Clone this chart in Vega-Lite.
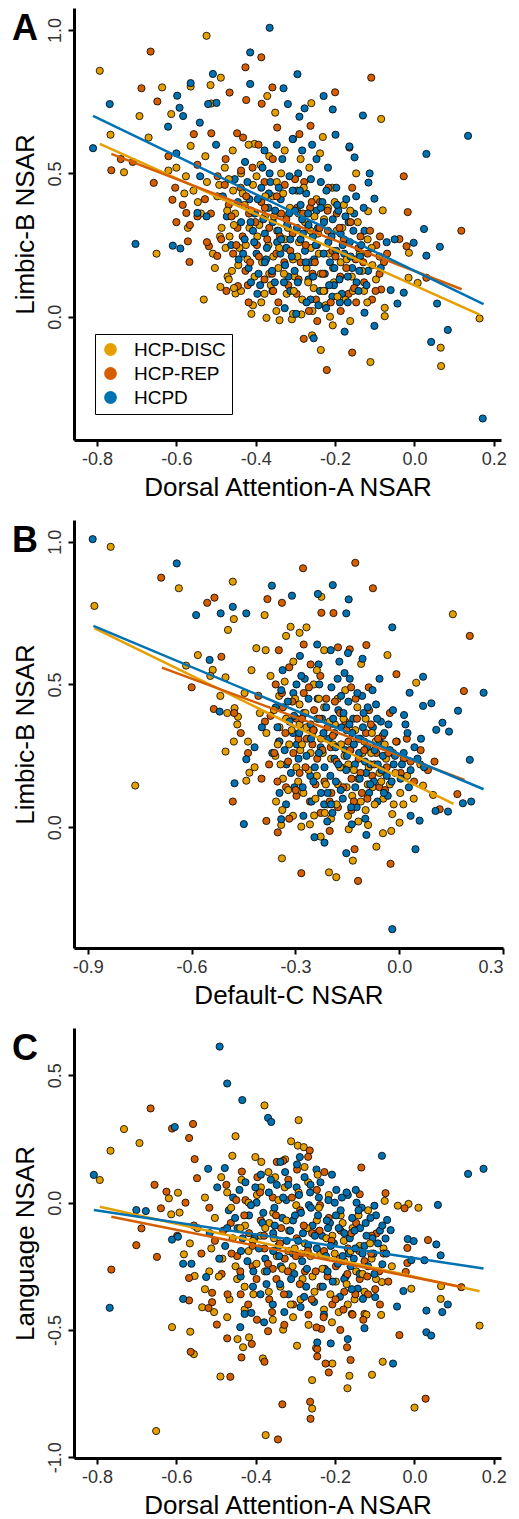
{
"$schema":"https://vega.github.io/schema/vega-lite/v6.json",
"background":"white",
"padding":{"left":12,"top":8,"right":10,"bottom":5},
"config":{"font":"Liberation Sans","view":{"stroke":null},
"axis":{"grid":false,"domainColor":"black","domainWidth":3,"tickColor":"black","tickWidth":2,"tickSize":6,"labelFontSize":18,"labelColor":"#333333","titleFontSize":26,"titleFontWeight":"normal","titleColor":"black"},
"concat":{"spacing":20},
"title":{"fontSize":36,"fontWeight":"bold","anchor":"start","frame":"bounds","color":"black"}},
"datasets":{
"A":[
{"g":"HCP-DISC","x":-0.524,"y":0.98},{"g":"HCP-DISC","x":-0.793,"y":0.858},{"g":"HCP-DISC","x":-0.766,"y":0.635},{"g":"HCP-DISC","x":-0.732,"y":0.504},{"g":"HCP-DISC","x":-0.693,"y":0.70},{"g":"HCP-DISC","x":-0.67,"y":0.625},{"g":"HCP-DISC","x":-0.636,"y":0.80},{"g":"HCP-DISC","x":-0.613,"y":0.707},{"g":"HCP-DISC","x":-0.564,"y":0.803},{"g":"HCP-DISC","x":-0.514,"y":0.808},{"g":"HCP-DISC","x":-0.488,"y":0.834},{"g":"HCP-DISC","x":-0.512,"y":0.744},{"g":"HCP-DISC","x":-0.571,"y":0.31},{"g":"HCP-DISC","x":-0.531,"y":0.06},{"g":"HCP-DISC","x":-0.489,"y":0.104},{"g":"HCP-DISC","x":-0.65,"y":0.22},{"g":"HCP-DISC","x":-0.451,"y":0.081},{"g":"HCP-DISC","x":-0.471,"y":0.14},{"g":"HCP-DISC","x":-0.407,"y":0.04},{"g":"HCP-DISC","x":-0.411,"y":0.01},{"g":"HCP-DISC","x":-0.373,"y":-0.004},{"g":"HCP-DISC","x":-0.34,"y":-0.012},{"g":"HCP-DISC","x":-0.309,"y":-0.009},{"g":"HCP-DISC","x":-0.285,"y":0.008},{"g":"HCP-DISC","x":-0.236,"y":-0.116},{"g":"HCP-DISC","x":-0.258,"y":-0.065},{"g":"HCP-DISC","x":-0.206,"y":-0.03},{"g":"HCP-DISC","x":-0.162,"y":-0.015},{"g":"HCP-DISC","x":-0.111,"y":-0.158},{"g":"HCP-DISC","x":-0.075,"y":0.031},{"g":"HCP-DISC","x":-0.075,"y":0.002},{"g":"HCP-DISC","x":0.066,"y":-0.108},{"g":"HCP-DISC","x":0.067,"y":-0.172},{"g":"HCP-DISC","x":0.164,"y":-0.006},{"g":"HCP-DISC","x":-0.084,"y":0.69},{"g":"HCP-DISC","x":-0.117,"y":0.368},{"g":"HCP-DISC","x":-0.08,"y":0.371},{"g":"HCP-DISC","x":-0.015,"y":0.136},{"g":"HCP-DISC","x":0.008,"y":0.118},{"g":"HCP-DISC","x":-0.014,"y":0.223},{"g":"HCP-DISC","x":-0.231,"y":0.627},{"g":"HCP-DISC","x":-0.26,"y":0.745},{"g":"HCP-DISC","x":-0.351,"y":0.712},{"g":"HCP-DISC","x":-0.371,"y":0.77},{"g":"HCP-DISC","x":-0.403,"y":0.603},{"g":"HCP-DISC","x":-0.564,"y":0.596},{"g":"HCP-DISC","x":-0.58,"y":0.43},{"g":"HCP-DISC","x":-0.546,"y":0.40},{"g":"HCP-DISC","x":-0.60,"y":0.52},{"g":"HCP-DISC","x":-0.62,"y":0.51},{"g":"HCP-DISC","x":-0.49,"y":0.28},{"g":"HCP-DISC","x":-0.46,"y":0.16},
{"g":"HCP-DISC","x":-0.523,"y":0.47},{"g":"HCP-DISC","x":-0.497,"y":0.42},{"g":"HCP-DISC","x":-0.486,"y":0.31},{"g":"HCP-DISC","x":-0.478,"y":0.52},{"g":"HCP-DISC","x":-0.466,"y":0.28},{"g":"HCP-DISC","x":-0.457,"y":0.44},{"g":"HCP-DISC","x":-0.452,"y":0.36},{"g":"HCP-DISC","x":-0.444,"y":0.18},{"g":"HCP-DISC","x":-0.437,"y":0.50},{"g":"HCP-DISC","x":-0.428,"y":0.39},{"g":"HCP-DISC","x":-0.425,"y":0.25},{"g":"HCP-DISC","x":-0.416,"y":0.31},{"g":"HCP-DISC","x":-0.407,"y":0.46},{"g":"HCP-DISC","x":-0.403,"y":0.14},{"g":"HCP-DISC","x":-0.396,"y":0.28},{"g":"HCP-DISC","x":-0.388,"y":0.53},{"g":"HCP-DISC","x":-0.384,"y":0.19},{"g":"HCP-DISC","x":-0.377,"y":0.35},{"g":"HCP-DISC","x":-0.368,"y":0.25},{"g":"HCP-DISC","x":-0.362,"y":0.11},{"g":"HCP-DISC","x":-0.357,"y":0.42},{"g":"HCP-DISC","x":-0.346,"y":0.30},{"g":"HCP-DISC","x":-0.343,"y":0.17},{"g":"HCP-DISC","x":-0.336,"y":0.50},{"g":"HCP-DISC","x":-0.327,"y":0.27},{"g":"HCP-DISC","x":-0.322,"y":0.08},{"g":"HCP-DISC","x":-0.314,"y":0.38},{"g":"HCP-DISC","x":-0.306,"y":0.20},{"g":"HCP-DISC","x":-0.302,"y":0.14},{"g":"HCP-DISC","x":-0.296,"y":0.44},{"g":"HCP-DISC","x":-0.291,"y":0.26},{"g":"HCP-DISC","x":-0.283,"y":0.06},{"g":"HCP-DISC","x":-0.276,"y":0.33},{"g":"HCP-DISC","x":-0.272,"y":0.17},{"g":"HCP-DISC","x":-0.265,"y":0.52},{"g":"HCP-DISC","x":-0.261,"y":0.24},{"g":"HCP-DISC","x":-0.254,"y":0.10},{"g":"HCP-DISC","x":-0.247,"y":0.41},{"g":"HCP-DISC","x":-0.243,"y":0.29},{"g":"HCP-DISC","x":-0.236,"y":0.15},{"g":"HCP-DISC","x":-0.228,"y":0.34},{"g":"HCP-DISC","x":-0.224,"y":0.04},{"g":"HCP-DISC","x":-0.216,"y":0.22},{"g":"HCP-DISC","x":-0.207,"y":0.45},{"g":"HCP-DISC","x":-0.203,"y":0.12},{"g":"HCP-DISC","x":-0.196,"y":0.30},{"g":"HCP-DISC","x":-0.186,"y":0.19},{"g":"HCP-DISC","x":-0.178,"y":0.39},{"g":"HCP-DISC","x":-0.174,"y":0.06},{"g":"HCP-DISC","x":-0.167,"y":0.26},{"g":"HCP-DISC","x":-0.158,"y":0.14},{"g":"HCP-DISC","x":-0.147,"y":0.50},{"g":"HCP-DISC","x":-0.138,"y":0.22},{"g":"HCP-DISC","x":-0.127,"y":0.09},{"g":"HCP-DISC","x":-0.118,"y":0.27},{"g":"HCP-DISC","x":-0.106,"y":0.18},{"g":"HCP-DISC","x":-0.097,"y":0.13},{"g":"HCP-DISC","x":-0.088,"y":0.21},{"g":"HCP-DISC","x":-0.538,"y":0.36},{"g":"HCP-DISC","x":-0.527,"y":0.56},{"g":"HCP-DISC","x":-0.508,"y":0.22},{"g":"HCP-DISC","x":-0.557,"y":0.44},{"g":"HCP-DISC","x":-0.576,"y":0.49},{"g":"HCP-DISC","x":-0.458,"y":0.58},{"g":"HCP-DISC","x":-0.418,"y":0.60},{"g":"HCP-DISC","x":-0.366,"y":0.56},{"g":"HCP-DISC","x":-0.327,"y":0.58},{"g":"HCP-DISC","x":-0.287,"y":0.55},{"g":"HCP-DISC","x":-0.238,"y":0.57},{"g":"HCP-DISC","x":-0.437,"y":0.09},{"g":"HCP-DISC","x":-0.386,"y":0.05},{"g":"HCP-DISC","x":-0.348,"y":0.02},{"g":"HCP-DISC","x":-0.306,"y":0.01},{"g":"HCP-DISC","x":-0.257,"y":0.02},{"g":"HCP-DISC","x":-0.213,"y":0.00},{"g":"HCP-DISC","x":-0.468,"y":0.13},{"g":"HCP-DISC","x":-0.503,"y":0.17},{"g":"HCP-DISC","x":-0.476,"y":0.24},{"g":"HCP-DISC","x":-0.292,"y":0.36},{"g":"HCP-DISC","x":-0.356,"y":0.21},
{"g":"HCP-REP","x":-0.665,"y":0.925},{"g":"HCP-REP","x":-0.688,"y":0.797},{"g":"HCP-REP","x":-0.648,"y":0.751},{"g":"HCP-REP","x":-0.764,"y":0.511},{"g":"HCP-REP","x":-0.657,"y":0.467},{"g":"HCP-REP","x":-0.61,"y":0.408},{"g":"HCP-REP","x":-0.60,"y":0.33},{"g":"HCP-REP","x":-0.567,"y":0.191},{"g":"HCP-REP","x":-0.571,"y":0.263},{"g":"HCP-REP","x":-0.497,"y":0.212},{"g":"HCP-REP","x":-0.518,"y":0.246},{"g":"HCP-REP","x":-0.426,"y":0.87},{"g":"HCP-REP","x":-0.386,"y":0.905},{"g":"HCP-REP","x":-0.358,"y":0.80},{"g":"HCP-REP","x":-0.466,"y":0.782},{"g":"HCP-REP","x":-0.424,"y":0.756},{"g":"HCP-REP","x":-0.385,"y":0.743},{"g":"HCP-REP","x":-0.556,"y":0.637},{"g":"HCP-REP","x":-0.512,"y":0.64},{"g":"HCP-REP","x":-0.432,"y":0.625},{"g":"HCP-REP","x":-0.29,"y":0.637},{"g":"HCP-REP","x":-0.262,"y":0.666},{"g":"HCP-REP","x":-0.20,"y":0.783},{"g":"HCP-REP","x":-0.109,"y":0.834},{"g":"HCP-REP","x":-0.027,"y":0.49},{"g":"HCP-REP","x":-0.017,"y":0.365},{"g":"HCP-REP","x":0.118,"y":0.30},{"g":"HCP-REP","x":-0.02,"y":0.246},{"g":"HCP-REP","x":-0.038,"y":0.271},{"g":"HCP-REP","x":0.03,"y":0.136},{"g":"HCP-REP","x":-0.279,"y":-0.077},{"g":"HCP-REP","x":-0.221,"y":-0.186},{"g":"HCP-REP","x":-0.157,"y":-0.125},{"g":"HCP-REP","x":-0.245,"y":-0.015},{"g":"HCP-REP","x":-0.084,"y":0.095},{"g":"HCP-REP","x":-0.164,"y":0.59},{"g":"HCP-REP","x":-0.445,"y":0.107},{"g":"HCP-REP","x":-0.42,"y":0.11},{"g":"HCP-REP","x":-0.575,"y":0.362},{"g":"HCP-REP","x":-0.547,"y":0.35},{"g":"HCP-REP","x":-0.71,"y":0.54},{"g":"HCP-REP","x":-0.74,"y":0.55},{"g":"HCP-REP","x":-0.62,"y":0.56},
{"g":"HCP-REP","x":-0.547,"y":0.53},{"g":"HCP-REP","x":-0.528,"y":0.41},{"g":"HCP-REP","x":-0.513,"y":0.36},{"g":"HCP-REP","x":-0.496,"y":0.49},{"g":"HCP-REP","x":-0.487,"y":0.27},{"g":"HCP-REP","x":-0.476,"y":0.55},{"g":"HCP-REP","x":-0.468,"y":0.39},{"g":"HCP-REP","x":-0.457,"y":0.22},{"g":"HCP-REP","x":-0.446,"y":0.31},{"g":"HCP-REP","x":-0.438,"y":0.45},{"g":"HCP-REP","x":-0.426,"y":0.16},{"g":"HCP-REP","x":-0.417,"y":0.36},{"g":"HCP-REP","x":-0.408,"y":0.52},{"g":"HCP-REP","x":-0.397,"y":0.25},{"g":"HCP-REP","x":-0.386,"y":0.40},{"g":"HCP-REP","x":-0.378,"y":0.13},{"g":"HCP-REP","x":-0.366,"y":0.31},{"g":"HCP-REP","x":-0.357,"y":0.55},{"g":"HCP-REP","x":-0.348,"y":0.22},{"g":"HCP-REP","x":-0.336,"y":0.36},{"g":"HCP-REP","x":-0.327,"y":0.46},{"g":"HCP-REP","x":-0.318,"y":0.11},{"g":"HCP-REP","x":-0.307,"y":0.29},{"g":"HCP-REP","x":-0.296,"y":0.38},{"g":"HCP-REP","x":-0.287,"y":0.19},{"g":"HCP-REP","x":-0.278,"y":0.47},{"g":"HCP-REP","x":-0.268,"y":0.31},{"g":"HCP-REP","x":-0.257,"y":0.15},{"g":"HCP-REP","x":-0.246,"y":0.25},{"g":"HCP-REP","x":-0.238,"y":0.40},{"g":"HCP-REP","x":-0.227,"y":0.09},{"g":"HCP-REP","x":-0.218,"y":0.30},{"g":"HCP-REP","x":-0.207,"y":0.23},{"g":"HCP-REP","x":-0.196,"y":0.36},{"g":"HCP-REP","x":-0.187,"y":0.14},{"g":"HCP-REP","x":-0.178,"y":0.27},{"g":"HCP-REP","x":-0.166,"y":0.08},{"g":"HCP-REP","x":-0.157,"y":0.45},{"g":"HCP-REP","x":-0.148,"y":0.20},{"g":"HCP-REP","x":-0.136,"y":0.28},{"g":"HCP-REP","x":-0.127,"y":0.12},{"g":"HCP-REP","x":-0.118,"y":0.22},{"g":"HCP-REP","x":-0.107,"y":0.06},{"g":"HCP-REP","x":-0.096,"y":0.25},{"g":"HCP-REP","x":-0.088,"y":0.15},{"g":"HCP-REP","x":-0.077,"y":0.19},{"g":"HCP-REP","x":-0.433,"y":0.28},{"g":"HCP-REP","x":-0.378,"y":0.47},{"g":"HCP-REP","x":-0.343,"y":0.05},{"g":"HCP-REP","x":-0.297,"y":0.08},{"g":"HCP-REP","x":-0.266,"y":0.02},{"g":"HCP-REP","x":-0.248,"y":0.06},{"g":"HCP-REP","x":-0.328,"y":0.19},{"g":"HCP-REP","x":-0.393,"y":0.60},{"g":"HCP-REP","x":-0.306,"y":0.62},{"g":"HCP-REP","x":-0.217,"y":0.45},{"g":"HCP-REP","x":-0.263,"y":0.38},{"g":"HCP-REP","x":-0.474,"y":0.09},{"g":"HCP-REP","x":-0.523,"y":0.26},{"g":"HCP-REP","x":-0.584,"y":0.39},{"g":"HCP-REP","x":-0.603,"y":0.45},{"g":"HCP-REP","x":-0.566,"y":0.32},{"g":"HCP-REP","x":-0.447,"y":0.64},{"g":"HCP-REP","x":-0.346,"y":0.66},{"g":"HCP-REP","x":-0.186,"y":0.02},{"g":"HCP-REP","x":-0.147,"y":0.05},
{"g":"HCPD","x":-0.365,"y":1.008},{"g":"HCPD","x":-0.414,"y":0.922},{"g":"HCPD","x":-0.508,"y":0.847},{"g":"HCPD","x":-0.564,"y":0.815},{"g":"HCPD","x":-0.598,"y":0.771},{"g":"HCPD","x":-0.592,"y":0.729},{"g":"HCPD","x":-0.583,"y":0.70},{"g":"HCPD","x":-0.621,"y":0.663},{"g":"HCPD","x":-0.768,"y":0.742},{"g":"HCPD","x":-0.81,"y":0.588},{"g":"HCPD","x":-0.703,"y":0.254},{"g":"HCPD","x":-0.609,"y":0.248},{"g":"HCPD","x":-0.59,"y":0.238},{"g":"HCPD","x":-0.547,"y":0.362},{"g":"HCPD","x":-0.524,"y":0.35},{"g":"HCPD","x":-0.541,"y":0.677},{"g":"HCPD","x":-0.499,"y":0.746},{"g":"HCPD","x":-0.52,"y":0.742},{"g":"HCPD","x":-0.414,"y":0.812},{"g":"HCPD","x":-0.33,"y":0.797},{"g":"HCPD","x":-0.319,"y":0.742},{"g":"HCPD","x":-0.295,"y":0.846},{"g":"HCPD","x":-0.277,"y":0.727},{"g":"HCPD","x":-0.29,"y":0.698},{"g":"HCPD","x":-0.229,"y":0.77},{"g":"HCPD","x":-0.206,"y":0.723},{"g":"HCPD","x":-0.13,"y":0.702},{"g":"HCPD","x":-0.199,"y":0.635},{"g":"HCPD","x":-0.164,"y":0.594},{"g":"HCPD","x":-0.151,"y":0.556},{"g":"HCPD","x":-0.113,"y":0.50},{"g":"HCPD","x":-0.116,"y":0.468},{"g":"HCPD","x":-0.101,"y":0.412},{"g":"HCPD","x":0.03,"y":0.568},{"g":"HCPD","x":0.135,"y":0.631},{"g":"HCPD","x":0.024,"y":0.306},{"g":"HCPD","x":0.064,"y":0.244},{"g":"HCPD","x":-0.002,"y":0.258},{"g":"HCPD","x":0.03,"y":0.213},{"g":"HCPD","x":-0.06,"y":0.093},{"g":"HCPD","x":-0.027,"y":0.084},{"g":"HCPD","x":-0.043,"y":0.046},{"g":"HCPD","x":0.057,"y":0.046},{"g":"HCPD","x":0.042,"y":-0.088},{"g":"HCPD","x":0.084,"y":-0.046},{"g":"HCPD","x":0.172,"y":-0.355},{"g":"HCPD","x":-0.101,"y":-0.032},{"g":"HCPD","x":-0.176,"y":-0.052},{"g":"HCPD","x":-0.254,"y":-0.075},{"g":"HCPD","x":-0.126,"y":0.014},{"g":"HCPD","x":-0.07,"y":0.26},{"g":"HCPD","x":-0.085,"y":0.17},{"g":"HCPD","x":-0.05,"y":0.27},{"g":"HCPD","x":-0.60,"y":0.57},{"g":"HCPD","x":-0.54,"y":0.49},{"g":"HCPD","x":-0.50,"y":0.60},
{"g":"HCPD","x":-0.453,"y":0.48},{"g":"HCPD","x":-0.437,"y":0.33},{"g":"HCPD","x":-0.428,"y":0.27},{"g":"HCPD","x":-0.416,"y":0.41},{"g":"HCPD","x":-0.407,"y":0.30},{"g":"HCPD","x":-0.398,"y":0.22},{"g":"HCPD","x":-0.402,"y":0.36},{"g":"HCPD","x":-0.386,"y":0.45},{"g":"HCPD","x":-0.393,"y":0.15},{"g":"HCPD","x":-0.377,"y":0.29},{"g":"HCPD","x":-0.383,"y":0.52},{"g":"HCPD","x":-0.368,"y":0.38},{"g":"HCPD","x":-0.374,"y":0.20},{"g":"HCPD","x":-0.357,"y":0.33},{"g":"HCPD","x":-0.363,"y":0.47},{"g":"HCPD","x":-0.346,"y":0.26},{"g":"HCPD","x":-0.352,"y":0.12},{"g":"HCPD","x":-0.337,"y":0.41},{"g":"HCPD","x":-0.343,"y":0.30},{"g":"HCPD","x":-0.326,"y":0.18},{"g":"HCPD","x":-0.333,"y":0.55},{"g":"HCPD","x":-0.316,"y":0.36},{"g":"HCPD","x":-0.323,"y":0.24},{"g":"HCPD","x":-0.307,"y":0.44},{"g":"HCPD","x":-0.313,"y":0.09},{"g":"HCPD","x":-0.296,"y":0.31},{"g":"HCPD","x":-0.302,"y":0.16},{"g":"HCPD","x":-0.287,"y":0.39},{"g":"HCPD","x":-0.293,"y":0.50},{"g":"HCPD","x":-0.276,"y":0.23},{"g":"HCPD","x":-0.283,"y":0.34},{"g":"HCPD","x":-0.267,"y":0.13},{"g":"HCPD","x":-0.273,"y":0.43},{"g":"HCPD","x":-0.256,"y":0.28},{"g":"HCPD","x":-0.262,"y":0.06},{"g":"HCPD","x":-0.247,"y":0.37},{"g":"HCPD","x":-0.253,"y":0.20},{"g":"HCPD","x":-0.236,"y":0.47},{"g":"HCPD","x":-0.243,"y":0.31},{"g":"HCPD","x":-0.226,"y":0.15},{"g":"HCPD","x":-0.232,"y":0.40},{"g":"HCPD","x":-0.217,"y":0.26},{"g":"HCPD","x":-0.223,"y":0.03},{"g":"HCPD","x":-0.206,"y":0.34},{"g":"HCPD","x":-0.213,"y":0.19},{"g":"HCPD","x":-0.197,"y":0.45},{"g":"HCPD","x":-0.203,"y":0.11},{"g":"HCPD","x":-0.186,"y":0.29},{"g":"HCPD","x":-0.192,"y":0.37},{"g":"HCPD","x":-0.177,"y":0.22},{"g":"HCPD","x":-0.183,"y":0.08},{"g":"HCPD","x":-0.166,"y":0.33},{"g":"HCPD","x":-0.172,"y":0.41},{"g":"HCPD","x":-0.157,"y":0.17},{"g":"HCPD","x":-0.163,"y":0.26},{"g":"HCPD","x":-0.146,"y":0.12},{"g":"HCPD","x":-0.152,"y":0.36},{"g":"HCPD","x":-0.137,"y":0.21},{"g":"HCPD","x":-0.126,"y":0.30},{"g":"HCPD","x":-0.117,"y":0.16},{"g":"HCPD","x":-0.473,"y":0.35},{"g":"HCPD","x":-0.462,"y":0.25},{"g":"HCPD","x":-0.483,"y":0.42},{"g":"HCPD","x":-0.427,"y":0.54},{"g":"HCPD","x":-0.412,"y":0.12},{"g":"HCPD","x":-0.358,"y":0.09},{"g":"HCPD","x":-0.327,"y":0.03},{"g":"HCPD","x":-0.298,"y":0.01},{"g":"HCPD","x":-0.283,"y":0.58},{"g":"HCPD","x":-0.247,"y":0.55},{"g":"HCPD","x":-0.218,"y":0.52},{"g":"HCPD","x":-0.272,"y":0.05},{"g":"HCPD","x":-0.238,"y":0.09},{"g":"HCPD","x":-0.207,"y":0.07},{"g":"HCPD","x":-0.188,"y":0.05},{"g":"HCPD","x":-0.347,"y":0.60},{"g":"HCPD","x":-0.378,"y":0.58},{"g":"HCPD","x":-0.307,"y":0.62},{"g":"HCPD","x":-0.258,"y":0.60},{"g":"HCPD","x":-0.443,"y":0.20},{"g":"HCPD","x":-0.418,"y":0.17},{"g":"HCPD","x":-0.396,"y":0.08},{"g":"HCPD","x":-0.287,"y":0.27},{"g":"HCPD","x":-0.318,"y":0.14},{"g":"HCPD","x":-0.367,"y":0.43},{"g":"HCPD","x":-0.228,"y":0.33},{"g":"HCPD","x":-0.338,"y":0.22},{"g":"HCPD","x":-0.263,"y":0.19},{"g":"HCPD","x":-0.197,"y":0.23},{"g":"HCPD","x":-0.168,"y":0.14},
{"g":"HCP-DISC","x":-0.468,"y":0.48},{"g":"HCP-DISC","x":-0.455,"y":0.32},{"g":"HCP-DISC","x":-0.441,"y":0.24},{"g":"HCP-DISC","x":-0.433,"y":0.43},{"g":"HCP-DISC","x":-0.421,"y":0.20},{"g":"HCP-DISC","x":-0.412,"y":0.37},{"g":"HCP-DISC","x":-0.398,"y":0.49},{"g":"HCP-DISC","x":-0.391,"y":0.32},{"g":"HCP-DISC","x":-0.376,"y":0.42},{"g":"HCP-DISC","x":-0.366,"y":0.15},{"g":"HCP-DISC","x":-0.354,"y":0.35},{"g":"HCP-DISC","x":-0.341,"y":0.24},{"g":"HCP-DISC","x":-0.331,"y":0.43},{"g":"HCP-DISC","x":-0.319,"y":0.31},{"g":"HCP-DISC","x":-0.304,"y":0.09},{"g":"HCP-DISC","x":-0.295,"y":0.21},{"g":"HCP-DISC","x":-0.279,"y":0.45},{"g":"HCP-DISC","x":-0.268,"y":0.12},{"g":"HCP-DISC","x":-0.252,"y":0.35},{"g":"HCP-DISC","x":-0.241,"y":0.22},{"g":"HCP-DISC","x":-0.229,"y":0.09},{"g":"HCP-DISC","x":-0.218,"y":0.38},{"g":"HCP-DISC","x":-0.205,"y":0.17},{"g":"HCP-DISC","x":-0.194,"y":0.07},{"g":"HCP-DISC","x":-0.182,"y":0.31},{"g":"HCP-DISC","x":-0.171,"y":0.20},{"g":"HCP-DISC","x":-0.155,"y":0.09},{"g":"HCP-DISC","x":-0.143,"y":0.33},{"g":"HCP-DISC","x":-0.132,"y":0.16},{"g":"HCP-DISC","x":-0.119,"y":0.05},{"g":"HCP-DISC","x":-0.472,"y":0.37},{"g":"HCP-DISC","x":-0.492,"y":0.46},{"g":"HCP-DISC","x":-0.378,"y":0.08},{"g":"HCP-DISC","x":-0.329,"y":0.15},{"g":"HCP-DISC","x":-0.262,"y":0.30},{"g":"HCP-DISC","x":-0.201,"y":0.40},{"g":"HCP-DISC","x":-0.162,"y":0.37},{"g":"HCP-DISC","x":-0.108,"y":0.24},{"g":"HCP-DISC","x":-0.455,"y":0.10},{"g":"HCP-DISC","x":-0.347,"y":0.47},
{"g":"HCP-REP","x":-0.478,"y":0.46},{"g":"HCP-REP","x":-0.461,"y":0.35},{"g":"HCP-REP","x":-0.449,"y":0.25},{"g":"HCP-REP","x":-0.437,"y":0.51},{"g":"HCP-REP","x":-0.424,"y":0.42},{"g":"HCP-REP","x":-0.414,"y":0.19},{"g":"HCP-REP","x":-0.401,"y":0.33},{"g":"HCP-REP","x":-0.392,"y":0.21},{"g":"HCP-REP","x":-0.377,"y":0.38},{"g":"HCP-REP","x":-0.371,"y":0.27},{"g":"HCP-REP","x":-0.359,"y":0.15},{"g":"HCP-REP","x":-0.347,"y":0.42},{"g":"HCP-REP","x":-0.339,"y":0.28},{"g":"HCP-REP","x":-0.323,"y":0.34},{"g":"HCP-REP","x":-0.313,"y":0.23},{"g":"HCP-REP","x":-0.301,"y":0.48},{"g":"HCP-REP","x":-0.292,"y":0.13},{"g":"HCP-REP","x":-0.281,"y":0.36},{"g":"HCP-REP","x":-0.274,"y":0.25},{"g":"HCP-REP","x":-0.259,"y":0.40},{"g":"HCP-REP","x":-0.251,"y":0.19},{"g":"HCP-REP","x":-0.239,"y":0.31},{"g":"HCP-REP","x":-0.231,"y":0.15},{"g":"HCP-REP","x":-0.219,"y":0.37},{"g":"HCP-REP","x":-0.211,"y":0.05},{"g":"HCP-REP","x":-0.199,"y":0.21},{"g":"HCP-REP","x":-0.189,"y":0.31},{"g":"HCP-REP","x":-0.172,"y":0.17},{"g":"HCP-REP","x":-0.161,"y":0.33},{"g":"HCP-REP","x":-0.152,"y":0.10},{"g":"HCP-REP","x":-0.141,"y":0.24},{"g":"HCP-REP","x":-0.129,"y":0.19},{"g":"HCP-REP","x":-0.112,"y":0.30},{"g":"HCP-REP","x":-0.098,"y":0.09},{"g":"HCP-REP","x":-0.087,"y":0.28},{"g":"HCP-REP","x":-0.069,"y":0.22},{"g":"HCP-REP","x":-0.418,"y":0.05},{"g":"HCP-REP","x":-0.356,"y":0.09},
{"g":"HCPD","x":-0.445,"y":0.40},{"g":"HCPD","x":-0.432,"y":0.22},{"g":"HCPD","x":-0.421,"y":0.47},{"g":"HCPD","x":-0.413,"y":0.33},{"g":"HCPD","x":-0.404,"y":0.26},{"g":"HCPD","x":-0.395,"y":0.41},{"g":"HCPD","x":-0.389,"y":0.11},{"g":"HCPD","x":-0.381,"y":0.34},{"g":"HCPD","x":-0.372,"y":0.24},{"g":"HCPD","x":-0.365,"y":0.50},{"g":"HCPD","x":-0.359,"y":0.16},{"g":"HCPD","x":-0.351,"y":0.37},{"g":"HCPD","x":-0.342,"y":0.45},{"g":"HCPD","x":-0.336,"y":0.27},{"g":"HCPD","x":-0.329,"y":0.12},{"g":"HCPD","x":-0.321,"y":0.32},{"g":"HCPD","x":-0.315,"y":0.49},{"g":"HCPD","x":-0.309,"y":0.21},{"g":"HCPD","x":-0.301,"y":0.37},{"g":"HCPD","x":-0.294,"y":0.12},{"g":"HCPD","x":-0.289,"y":0.44},{"g":"HCPD","x":-0.281,"y":0.29},{"g":"HCPD","x":-0.274,"y":0.19},{"g":"HCPD","x":-0.268,"y":0.36},{"g":"HCPD","x":-0.261,"y":0.48},{"g":"HCPD","x":-0.255,"y":0.14},{"g":"HCPD","x":-0.249,"y":0.25},{"g":"HCPD","x":-0.242,"y":0.04},{"g":"HCPD","x":-0.236,"y":0.38},{"g":"HCPD","x":-0.229,"y":0.22},{"g":"HCPD","x":-0.222,"y":0.44},{"g":"HCPD","x":-0.215,"y":0.11},{"g":"HCPD","x":-0.209,"y":0.28},{"g":"HCPD","x":-0.202,"y":0.17},{"g":"HCPD","x":-0.195,"y":0.39},{"g":"HCPD","x":-0.189,"y":0.13},{"g":"HCPD","x":-0.181,"y":0.25},{"g":"HCPD","x":-0.174,"y":0.35},{"g":"HCPD","x":-0.168,"y":0.05},{"g":"HCPD","x":-0.161,"y":0.21},{"g":"HCPD","x":-0.154,"y":0.30},{"g":"HCPD","x":-0.147,"y":0.42},{"g":"HCPD","x":-0.141,"y":0.09},{"g":"HCPD","x":-0.134,"y":0.25},{"g":"HCPD","x":-0.128,"y":0.38},{"g":"HCPD","x":-0.121,"y":0.11},{"g":"HCPD","x":-0.139,"y":0.16},{"g":"HCPD","x":-0.377,"y":0.19},{"g":"HCPD","x":-0.313,"y":0.27},{"g":"HCPD","x":-0.267,"y":0.32}
],
"B":[
{"g":"HCP-DISC","x":-0.834,"y":0.982},{"g":"HCP-DISC","x":-0.881,"y":0.775},{"g":"HCP-DISC","x":-0.637,"y":0.837},{"g":"HCP-DISC","x":-0.481,"y":0.86},{"g":"HCP-DISC","x":-0.763,"y":0.146},{"g":"HCP-DISC","x":-0.502,"y":0.265},{"g":"HCP-DISC","x":-0.442,"y":0.163},{"g":"HCP-DISC","x":-0.433,"y":0.191},{"g":"HCP-DISC","x":-0.495,"y":0.691},{"g":"HCP-DISC","x":-0.478,"y":0.729},{"g":"HCP-DISC","x":-0.413,"y":0.627},{"g":"HCP-DISC","x":0.155,"y":0.746},{"g":"HCP-DISC","x":-0.034,"y":0.603},{"g":"HCP-DISC","x":-0.11,"y":0.572},{"g":"HCP-DISC","x":0.049,"y":0.506},{"g":"HCP-DISC","x":0.098,"y":0.113},{"g":"HCP-DISC","x":0.069,"y":0.146},{"g":"HCP-DISC","x":-0.02,"y":0.046},{"g":"HCP-DISC","x":0.001,"y":0.016},{"g":"HCP-DISC","x":-0.023,"y":-0.013},{"g":"HCP-DISC","x":-0.047,"y":-0.021},{"g":"HCP-DISC","x":-0.066,"y":-0.068},{"g":"HCP-DISC","x":-0.134,"y":-0.117},{"g":"HCP-DISC","x":-0.09,"y":0.008},{"g":"HCP-DISC","x":-0.146,"y":-0.007},{"g":"HCP-DISC","x":-0.182,"y":-0.175},{"g":"HCP-DISC","x":-0.203,"y":-0.158},{"g":"HCP-DISC","x":-0.339,"y":-0.109},{"g":"HCP-DISC","x":-0.341,"y":0.008},{"g":"HCP-DISC","x":-0.283,"y":0.002},{"g":"HCP-DISC","x":-0.227,"y":-0.033},{"g":"HCP-DISC","x":-0.246,"y":0.041},{"g":"HCP-DISC","x":-0.225,"y":0.807},{"g":"HCP-DISC","x":-0.314,"y":0.702},{"g":"HCP-DISC","x":-0.288,"y":0.681},{"g":"HCP-DISC","x":-0.389,"y":0.743},{"g":"HCP-DISC","x":-0.616,"y":0.566},{"g":"HCP-DISC","x":-0.539,"y":0.551},{"g":"HCP-DISC","x":-0.502,"y":0.525},{"g":"HCP-DISC","x":-0.582,"y":0.603},{"g":"HCP-DISC","x":-0.476,"y":0.417},{"g":"HCP-DISC","x":-0.466,"y":0.387},
{"g":"HCP-DISC","x":-0.403,"y":0.40},{"g":"HCP-DISC","x":-0.384,"y":0.33},{"g":"HCP-DISC","x":-0.372,"y":0.53},{"g":"HCP-DISC","x":-0.358,"y":0.25},{"g":"HCP-DISC","x":-0.347,"y":0.46},{"g":"HCP-DISC","x":-0.336,"y":0.17},{"g":"HCP-DISC","x":-0.327,"y":0.38},{"g":"HCP-DISC","x":-0.318,"y":0.29},{"g":"HCP-DISC","x":-0.306,"y":0.58},{"g":"HCP-DISC","x":-0.297,"y":0.21},{"g":"HCP-DISC","x":-0.288,"y":0.43},{"g":"HCP-DISC","x":-0.277,"y":0.12},{"g":"HCP-DISC","x":-0.268,"y":0.35},{"g":"HCP-DISC","x":-0.256,"y":0.26},{"g":"HCP-DISC","x":-0.247,"y":0.50},{"g":"HCP-DISC","x":-0.238,"y":0.18},{"g":"HCP-DISC","x":-0.226,"y":0.31},{"g":"HCP-DISC","x":-0.217,"y":0.42},{"g":"HCP-DISC","x":-0.208,"y":0.08},{"g":"HCP-DISC","x":-0.197,"y":0.24},{"g":"HCP-DISC","x":-0.186,"y":0.36},{"g":"HCP-DISC","x":-0.177,"y":0.15},{"g":"HCP-DISC","x":-0.168,"y":0.29},{"g":"HCP-DISC","x":-0.156,"y":0.48},{"g":"HCP-DISC","x":-0.147,"y":0.22},{"g":"HCP-DISC","x":-0.136,"y":0.11},{"g":"HCP-DISC","x":-0.127,"y":0.34},{"g":"HCP-DISC","x":-0.118,"y":0.17},{"g":"HCP-DISC","x":-0.106,"y":0.26},{"g":"HCP-DISC","x":-0.097,"y":0.06},{"g":"HCP-DISC","x":-0.088,"y":0.21},{"g":"HCP-DISC","x":-0.077,"y":0.14},{"g":"HCP-DISC","x":-0.068,"y":0.30},{"g":"HCP-DISC","x":-0.057,"y":0.19},{"g":"HCP-DISC","x":-0.046,"y":0.10},{"g":"HCP-DISC","x":-0.038,"y":0.24},{"g":"HCP-DISC","x":-0.027,"y":0.15},{"g":"HCP-DISC","x":-0.016,"y":0.08},{"g":"HCP-DISC","x":0.003,"y":0.12},{"g":"HCP-DISC","x":0.023,"y":0.18},{"g":"HCP-DISC","x":0.042,"y":0.10},{"g":"HCP-DISC","x":0.061,"y":0.22},{"g":"HCP-DISC","x":-0.447,"y":0.47},{"g":"HCP-DISC","x":-0.468,"y":0.36},{"g":"HCP-DISC","x":-0.437,"y":0.30},{"g":"HCP-DISC","x":-0.418,"y":0.21},{"g":"HCP-DISC","x":-0.427,"y":0.55},{"g":"HCP-DISC","x":-0.386,"y":0.62},{"g":"HCP-DISC","x":-0.327,"y":0.67},{"g":"HCP-DISC","x":-0.268,"y":0.70},{"g":"HCP-DISC","x":-0.217,"y":0.62},{"g":"HCP-DISC","x":-0.356,"y":0.09},{"g":"HCP-DISC","x":-0.307,"y":0.04},{"g":"HCP-DISC","x":-0.258,"y":0.01},{"g":"HCP-DISC","x":-0.197,"y":0.03},{"g":"HCP-DISC","x":-0.118,"y":0.02},{"g":"HCP-DISC","x":-0.286,"y":0.27},{"g":"HCP-DISC","x":-0.237,"y":0.38},{"g":"HCP-DISC","x":-0.178,"y":0.45},{"g":"HCP-DISC","x":-0.097,"y":0.38},{"g":"HCP-DISC","x":-0.148,"y":0.04},{"g":"HCP-DISC","x":-0.346,"y":0.35},{"g":"HCP-DISC","x":-0.517,"y":0.46},{"g":"HCP-DISC","x":-0.546,"y":0.53},{"g":"HCP-DISC","x":-0.497,"y":0.40},{"g":"HCP-DISC","x":-0.478,"y":0.30},
{"g":"HCP-REP","x":-0.688,"y":0.874},{"g":"HCP-REP","x":-0.555,"y":0.786},{"g":"HCP-REP","x":-0.534,"y":0.804},{"g":"HCP-REP","x":-0.278,"y":0.907},{"g":"HCP-REP","x":-0.127,"y":0.926},{"g":"HCP-REP","x":-0.076,"y":0.837},{"g":"HCP-REP","x":-0.381,"y":0.799},{"g":"HCP-REP","x":-0.339,"y":0.786},{"g":"HCP-REP","x":-0.225,"y":0.751},{"g":"HCP-REP","x":0.204,"y":0.67},{"g":"HCP-REP","x":0.187,"y":0.477},{"g":"HCP-REP","x":-0.008,"y":0.536},{"g":"HCP-REP","x":-0.095,"y":0.638},{"g":"HCP-REP","x":-0.514,"y":0.597},{"g":"HCP-REP","x":-0.536,"y":0.414},{"g":"HCP-REP","x":-0.481,"y":0.09},{"g":"HCP-REP","x":-0.384,"y":0.022},{"g":"HCP-REP","x":-0.351,"y":-0.018},{"g":"HCP-REP","x":-0.283,"y":-0.161},{"g":"HCP-REP","x":-0.119,"y":-0.188},{"g":"HCP-REP","x":-0.129,"y":-0.077},{"g":"HCP-REP","x":-0.025,"y":-0.128},{"g":"HCP-REP","x":0.168,"y":0.116},{"g":"HCP-REP","x":0.117,"y":0.063},{"g":"HCP-REP","x":-0.201,"y":-0.013},{"g":"HCP-REP","x":-0.143,"y":0.623},{"g":"HCP-REP","x":-0.19,"y":0.75},{"g":"HCP-REP","x":-0.60,"y":0.49},
{"g":"HCP-REP","x":-0.407,"y":0.46},{"g":"HCP-REP","x":-0.388,"y":0.37},{"g":"HCP-REP","x":-0.376,"y":0.22},{"g":"HCP-REP","x":-0.357,"y":0.50},{"g":"HCP-REP","x":-0.348,"y":0.30},{"g":"HCP-REP","x":-0.336,"y":0.42},{"g":"HCP-REP","x":-0.327,"y":0.14},{"g":"HCP-REP","x":-0.318,"y":0.56},{"g":"HCP-REP","x":-0.306,"y":0.26},{"g":"HCP-REP","x":-0.297,"y":0.38},{"g":"HCP-REP","x":-0.288,"y":0.19},{"g":"HCP-REP","x":-0.276,"y":0.47},{"g":"HCP-REP","x":-0.267,"y":0.31},{"g":"HCP-REP","x":-0.258,"y":0.09},{"g":"HCP-REP","x":-0.246,"y":0.41},{"g":"HCP-REP","x":-0.237,"y":0.24},{"g":"HCP-REP","x":-0.228,"y":0.53},{"g":"HCP-REP","x":-0.216,"y":0.16},{"g":"HCP-REP","x":-0.207,"y":0.35},{"g":"HCP-REP","x":-0.198,"y":0.28},{"g":"HCP-REP","x":-0.186,"y":0.44},{"g":"HCP-REP","x":-0.177,"y":0.07},{"g":"HCP-REP","x":-0.168,"y":0.21},{"g":"HCP-REP","x":-0.156,"y":0.37},{"g":"HCP-REP","x":-0.147,"y":0.30},{"g":"HCP-REP","x":-0.138,"y":0.17},{"g":"HCP-REP","x":-0.126,"y":0.45},{"g":"HCP-REP","x":-0.117,"y":0.24},{"g":"HCP-REP","x":-0.108,"y":0.12},{"g":"HCP-REP","x":-0.096,"y":0.33},{"g":"HCP-REP","x":-0.087,"y":0.41},{"g":"HCP-REP","x":-0.078,"y":0.18},{"g":"HCP-REP","x":-0.066,"y":0.26},{"g":"HCP-REP","x":-0.057,"y":0.14},{"g":"HCP-REP","x":-0.048,"y":0.32},{"g":"HCP-REP","x":-0.036,"y":0.21},{"g":"HCP-REP","x":-0.027,"y":0.40},{"g":"HCP-REP","x":-0.018,"y":0.26},{"g":"HCP-REP","x":0.004,"y":0.19},{"g":"HCP-REP","x":0.022,"y":0.31},{"g":"HCP-REP","x":0.043,"y":0.16},{"g":"HCP-REP","x":0.062,"y":0.27},{"g":"HCP-REP","x":0.083,"y":0.20},{"g":"HCP-REP","x":0.102,"y":0.23},{"g":"HCP-REP","x":-0.437,"y":0.26},{"g":"HCP-REP","x":-0.458,"y":0.33},{"g":"HCP-REP","x":-0.276,"y":0.64},{"g":"HCP-REP","x":-0.177,"y":0.63},{"g":"HCP-REP","x":-0.348,"y":0.62},{"g":"HCP-REP","x":-0.227,"y":0.05},{"g":"HCP-REP","x":-0.297,"y":0.11},{"g":"HCP-REP","x":-0.138,"y":0.06},{"g":"HCP-REP","x":-0.196,"y":0.12},{"g":"HCP-REP","x":-0.477,"y":0.40},{"g":"HCP-REP","x":-0.398,"y":0.17},{"g":"HCP-REP","x":-0.088,"y":0.49},{"g":"HCP-REP","x":-0.256,"y":0.57},
{"g":"HCPD","x":-0.886,"y":1.009},{"g":"HCPD","x":-0.643,"y":0.924},{"g":"HCPD","x":-0.587,"y":0.743},{"g":"HCPD","x":-0.516,"y":0.749},{"g":"HCPD","x":-0.481,"y":0.772},{"g":"HCPD","x":-0.442,"y":0.749},{"g":"HCPD","x":-0.368,"y":0.846},{"g":"HCPD","x":-0.31,"y":0.811},{"g":"HCPD","x":-0.235,"y":0.817},{"g":"HCPD","x":-0.192,"y":0.848},{"g":"HCPD","x":-0.146,"y":0.798},{"g":"HCPD","x":-0.153,"y":0.749},{"g":"HCPD","x":-0.02,"y":0.70},{"g":"HCPD","x":-0.548,"y":0.586},{"g":"HCPD","x":-0.519,"y":0.405},{"g":"HCPD","x":-0.442,"y":0.238},{"g":"HCPD","x":-0.476,"y":0.154},{"g":"HCPD","x":-0.449,"y":0.011},{"g":"HCPD","x":-0.341,"y":0.028},{"g":"HCPD","x":-0.245,"y":-0.035},{"g":"HCPD","x":-0.216,"y":-0.054},{"g":"HCPD","x":-0.153,"y":-0.091},{"g":"HCPD","x":-0.095,"y":-0.027},{"g":"HCPD","x":-0.02,"y":-0.357},{"g":"HCPD","x":0.047,"y":-0.077},{"g":"HCPD","x":0.03,"y":0.471},{"g":"HCPD","x":0.069,"y":0.527},{"g":"HCPD","x":0.093,"y":0.434},{"g":"HCPD","x":0.17,"y":0.408},{"g":"HCPD","x":0.244,"y":0.471},{"g":"HCPD","x":0.204,"y":0.236},{"g":"HCPD","x":0.208,"y":0.09},{"g":"HCPD","x":0.184,"y":0.084},{"g":"HCPD","x":0.141,"y":0.055},{"g":"HCPD","x":0.105,"y":0.057},{"g":"HCPD","x":0.059,"y":0.023},{"g":"HCPD","x":0.033,"y":0.04},{"g":"HCPD","x":0.144,"y":0.335},{"g":"HCPD","x":0.107,"y":0.341},{"g":"HCPD","x":0.125,"y":0.366},{"g":"HCPD","x":0.014,"y":0.393},{"g":"HCPD","x":0.069,"y":0.425},
{"g":"HCPD","x":-0.357,"y":0.42},{"g":"HCPD","x":-0.346,"y":0.30},{"g":"HCPD","x":-0.337,"y":0.55},{"g":"HCPD","x":-0.326,"y":0.22},{"g":"HCPD","x":-0.317,"y":0.37},{"g":"HCPD","x":-0.306,"y":0.47},{"g":"HCPD","x":-0.303,"y":0.14},{"g":"HCPD","x":-0.296,"y":0.29},{"g":"HCPD","x":-0.287,"y":0.60},{"g":"HCPD","x":-0.276,"y":0.40},{"g":"HCPD","x":-0.268,"y":0.25},{"g":"HCPD","x":-0.273,"y":0.52},{"g":"HCPD","x":-0.257,"y":0.18},{"g":"HCPD","x":-0.247,"y":0.34},{"g":"HCPD","x":-0.253,"y":0.09},{"g":"HCPD","x":-0.236,"y":0.45},{"g":"HCPD","x":-0.227,"y":0.28},{"g":"HCPD","x":-0.233,"y":0.57},{"g":"HCPD","x":-0.216,"y":0.21},{"g":"HCPD","x":-0.223,"y":0.38},{"g":"HCPD","x":-0.207,"y":0.12},{"g":"HCPD","x":-0.196,"y":0.49},{"g":"HCPD","x":-0.203,"y":0.31},{"g":"HCPD","x":-0.187,"y":0.24},{"g":"HCPD","x":-0.193,"y":0.05},{"g":"HCPD","x":-0.176,"y":0.41},{"g":"HCPD","x":-0.183,"y":0.16},{"g":"HCPD","x":-0.167,"y":0.35},{"g":"HCPD","x":-0.173,"y":0.58},{"g":"HCPD","x":-0.156,"y":0.27},{"g":"HCPD","x":-0.163,"y":0.10},{"g":"HCPD","x":-0.147,"y":0.44},{"g":"HCPD","x":-0.153,"y":0.20},{"g":"HCPD","x":-0.136,"y":0.33},{"g":"HCPD","x":-0.143,"y":0.52},{"g":"HCPD","x":-0.127,"y":0.14},{"g":"HCPD","x":-0.133,"y":0.38},{"g":"HCPD","x":-0.116,"y":0.26},{"g":"HCPD","x":-0.123,"y":0.07},{"g":"HCPD","x":-0.107,"y":0.46},{"g":"HCPD","x":-0.113,"y":0.31},{"g":"HCPD","x":-0.096,"y":0.19},{"g":"HCPD","x":-0.103,"y":0.40},{"g":"HCPD","x":-0.087,"y":0.12},{"g":"HCPD","x":-0.093,"y":0.28},{"g":"HCPD","x":-0.076,"y":0.35},{"g":"HCPD","x":-0.083,"y":0.22},{"g":"HCPD","x":-0.067,"y":0.43},{"g":"HCPD","x":-0.073,"y":0.16},{"g":"HCPD","x":-0.056,"y":0.30},{"g":"HCPD","x":-0.063,"y":0.09},{"g":"HCPD","x":-0.047,"y":0.25},{"g":"HCPD","x":-0.053,"y":0.37},{"g":"HCPD","x":-0.036,"y":0.18},{"g":"HCPD","x":-0.043,"y":0.33},{"g":"HCPD","x":-0.027,"y":0.27},{"g":"HCPD","x":-0.033,"y":0.11},{"g":"HCPD","x":-0.016,"y":0.22},{"g":"HCPD","x":-0.007,"y":0.30},{"g":"HCPD","x":0.004,"y":0.17},{"g":"HCPD","x":0.013,"y":0.26},{"g":"HCPD","x":0.024,"y":0.33},{"g":"HCPD","x":0.033,"y":0.20},{"g":"HCPD","x":0.044,"y":0.28},{"g":"HCPD","x":0.053,"y":0.24},{"g":"HCPD","x":-0.237,"y":0.64},{"g":"HCPD","x":-0.198,"y":0.62},{"g":"HCPD","x":-0.148,"y":0.61},{"g":"HCPD","x":-0.106,"y":0.59},{"g":"HCPD","x":-0.327,"y":0.08},{"g":"HCPD","x":-0.277,"y":0.04},{"g":"HCPD","x":-0.208,"y":0.02},{"g":"HCPD","x":-0.137,"y":0.01},{"g":"HCPD","x":-0.098,"y":0.03},{"g":"HCPD","x":-0.367,"y":0.26},{"g":"HCPD","x":-0.397,"y":0.35},{"g":"HCPD","x":-0.418,"y":0.28},{"g":"HCPD","x":-0.256,"y":0.36},{"g":"HCPD","x":-0.187,"y":0.33},{"g":"HCPD","x":-0.128,"y":0.22},{"g":"HCPD","x":-0.077,"y":0.48},{"g":"HCPD","x":-0.346,"y":0.12},{"g":"HCPD","x":-0.307,"y":0.33},{"g":"HCPD","x":0.063,"y":0.31},{"g":"HCPD","x":0.072,"y":0.21},{"g":"HCPD","x":-0.018,"y":0.41},{"g":"HCPD","x":-0.057,"y":0.52},{"g":"HCPD","x":-0.297,"y":0.50},{"g":"HCPD","x":-0.168,"y":0.46},{"g":"HCPD","x":-0.217,"y":0.08},
{"g":"HCP-DISC","x":-0.362,"y":0.41},{"g":"HCP-DISC","x":-0.351,"y":0.29},{"g":"HCP-DISC","x":-0.343,"y":0.22},{"g":"HCP-DISC","x":-0.331,"y":0.51},{"g":"HCP-DISC","x":-0.321,"y":0.13},{"g":"HCP-DISC","x":-0.311,"y":0.34},{"g":"HCP-DISC","x":-0.301,"y":0.45},{"g":"HCP-DISC","x":-0.292,"y":0.16},{"g":"HCP-DISC","x":-0.281,"y":0.29},{"g":"HCP-DISC","x":-0.271,"y":0.40},{"g":"HCP-DISC","x":-0.262,"y":0.20},{"g":"HCP-DISC","x":-0.251,"y":0.33},{"g":"HCP-DISC","x":-0.242,"y":0.10},{"g":"HCP-DISC","x":-0.232,"y":0.45},{"g":"HCP-DISC","x":-0.221,"y":0.26},{"g":"HCP-DISC","x":-0.212,"y":0.15},{"g":"HCP-DISC","x":-0.201,"y":0.37},{"g":"HCP-DISC","x":-0.191,"y":0.29},{"g":"HCP-DISC","x":-0.181,"y":0.08},{"g":"HCP-DISC","x":-0.171,"y":0.21},{"g":"HCP-DISC","x":-0.161,"y":0.38},{"g":"HCP-DISC","x":-0.152,"y":0.14},{"g":"HCP-DISC","x":-0.141,"y":0.27},{"g":"HCP-DISC","x":-0.131,"y":0.20},{"g":"HCP-DISC","x":-0.121,"y":0.42},{"g":"HCP-DISC","x":-0.111,"y":0.09},{"g":"HCP-DISC","x":-0.101,"y":0.30},{"g":"HCP-DISC","x":-0.091,"y":0.15},{"g":"HCP-DISC","x":-0.081,"y":0.26},{"g":"HCP-DISC","x":-0.071,"y":0.08},{"g":"HCP-DISC","x":-0.052,"y":0.16},{"g":"HCP-DISC","x":-0.042,"y":0.29},{"g":"HCP-DISC","x":-0.011,"y":0.19},{"g":"HCP-DISC","x":0.012,"y":0.08},{"g":"HCP-DISC","x":-0.288,"y":0.36},{"g":"HCP-DISC","x":-0.238,"y":0.55},{"g":"HCP-DISC","x":-0.338,"y":0.06},{"g":"HCP-DISC","x":-0.158,"y":0.25},{"g":"HCP-DISC","x":-0.215,"y":0.05},{"g":"HCP-DISC","x":-0.079,"y":0.33},
{"g":"HCP-REP","x":-0.372,"y":0.39},{"g":"HCP-REP","x":-0.361,"y":0.26},{"g":"HCP-REP","x":-0.352,"y":0.16},{"g":"HCP-REP","x":-0.339,"y":0.47},{"g":"HCP-REP","x":-0.329,"y":0.33},{"g":"HCP-REP","x":-0.321,"y":0.23},{"g":"HCP-REP","x":-0.309,"y":0.44},{"g":"HCP-REP","x":-0.299,"y":0.13},{"g":"HCP-REP","x":-0.291,"y":0.31},{"g":"HCP-REP","x":-0.281,"y":0.38},{"g":"HCP-REP","x":-0.271,"y":0.21},{"g":"HCP-REP","x":-0.261,"y":0.49},{"g":"HCP-REP","x":-0.251,"y":0.29},{"g":"HCP-REP","x":-0.242,"y":0.15},{"g":"HCP-REP","x":-0.231,"y":0.38},{"g":"HCP-REP","x":-0.222,"y":0.27},{"g":"HCP-REP","x":-0.211,"y":0.45},{"g":"HCP-REP","x":-0.201,"y":0.09},{"g":"HCP-REP","x":-0.192,"y":0.32},{"g":"HCP-REP","x":-0.181,"y":0.23},{"g":"HCP-REP","x":-0.171,"y":0.40},{"g":"HCP-REP","x":-0.162,"y":0.14},{"g":"HCP-REP","x":-0.152,"y":0.34},{"g":"HCP-REP","x":-0.142,"y":0.27},{"g":"HCP-REP","x":-0.131,"y":0.09},{"g":"HCP-REP","x":-0.122,"y":0.38},{"g":"HCP-REP","x":-0.112,"y":0.19},{"g":"HCP-REP","x":-0.101,"y":0.27},{"g":"HCP-REP","x":-0.092,"y":0.10},{"g":"HCP-REP","x":-0.082,"y":0.36},{"g":"HCP-REP","x":-0.072,"y":0.22},{"g":"HCP-REP","x":-0.061,"y":0.31},{"g":"HCP-REP","x":-0.041,"y":0.13},{"g":"HCP-REP","x":-0.031,"y":0.26},{"g":"HCP-REP","x":-0.009,"y":0.30},{"g":"HCP-REP","x":0.013,"y":0.24},{"g":"HCP-REP","x":0.033,"y":0.23},{"g":"HCP-REP","x":-0.318,"y":0.03},{"g":"HCP-REP","x":-0.248,"y":0.34},{"g":"HCP-REP","x":-0.139,"y":0.49},
{"g":"HCPD","x":-0.352,"y":0.35},{"g":"HCPD","x":-0.341,"y":0.48},{"g":"HCPD","x":-0.331,"y":0.27},{"g":"HCPD","x":-0.322,"y":0.44},{"g":"HCPD","x":-0.313,"y":0.19},{"g":"HCPD","x":-0.304,"y":0.39},{"g":"HCPD","x":-0.291,"y":0.24},{"g":"HCPD","x":-0.283,"y":0.53},{"g":"HCPD","x":-0.279,"y":0.14},{"g":"HCPD","x":-0.262,"y":0.45},{"g":"HCPD","x":-0.255,"y":0.31},{"g":"HCPD","x":-0.244,"y":0.21},{"g":"HCPD","x":-0.231,"y":0.50},{"g":"HCPD","x":-0.226,"y":0.12},{"g":"HCPD","x":-0.219,"y":0.33},{"g":"HCPD","x":-0.211,"y":0.42},{"g":"HCPD","x":-0.199,"y":0.18},{"g":"HCPD","x":-0.191,"y":0.38},{"g":"HCPD","x":-0.184,"y":0.28},{"g":"HCPD","x":-0.178,"y":0.52},{"g":"HCPD","x":-0.169,"y":0.13},{"g":"HCPD","x":-0.161,"y":0.40},{"g":"HCPD","x":-0.151,"y":0.25},{"g":"HCPD","x":-0.144,"y":0.36},{"g":"HCPD","x":-0.139,"y":0.07},{"g":"HCPD","x":-0.131,"y":0.29},{"g":"HCPD","x":-0.121,"y":0.47},{"g":"HCPD","x":-0.114,"y":0.17},{"g":"HCPD","x":-0.105,"y":0.35},{"g":"HCPD","x":-0.099,"y":0.23},{"g":"HCPD","x":-0.091,"y":0.42},{"g":"HCPD","x":-0.084,"y":0.15},{"g":"HCPD","x":-0.071,"y":0.27},{"g":"HCPD","x":-0.064,"y":0.38},{"g":"HCPD","x":-0.051,"y":0.20},{"g":"HCPD","x":-0.044,"y":0.12},{"g":"HCPD","x":-0.031,"y":0.36},{"g":"HCPD","x":-0.022,"y":0.16},{"g":"HCPD","x":-0.012,"y":0.25},{"g":"HCPD","x":0.008,"y":0.22},{"g":"HCPD","x":0.018,"y":0.36},{"g":"HCPD","x":0.028,"y":0.14},{"g":"HCPD","x":-0.248,"y":0.16},{"g":"HCPD","x":-0.197,"y":0.08},{"g":"HCPD","x":-0.158,"y":0.54},{"g":"HCPD","x":-0.289,"y":0.33},{"g":"HCPD","x":-0.232,"y":0.26},{"g":"HCPD","x":-0.176,"y":0.22},{"g":"HCPD","x":-0.118,"y":0.31},{"g":"HCPD","x":-0.062,"y":0.22}
],
"C":[
{"g":"HCP-DISC","x":-0.732,"y":0.289},{"g":"HCP-DISC","x":-0.693,"y":0.234},{"g":"HCP-DISC","x":-0.766,"y":0.204},{"g":"HCP-DISC","x":-0.793,"y":0.089},{"g":"HCP-DISC","x":-0.651,"y":-0.897},{"g":"HCP-DISC","x":-0.375,"y":-0.913},{"g":"HCP-DISC","x":-0.489,"y":-0.683},{"g":"HCP-DISC","x":-0.451,"y":0.261},{"g":"HCP-DISC","x":-0.378,"y":0.382},{"g":"HCP-DISC","x":-0.292,"y":0.324},{"g":"HCP-DISC","x":-0.311,"y":0.241},{"g":"HCP-DISC","x":-0.294,"y":0.224},{"g":"HCP-DISC","x":-0.279,"y":0.218},{"g":"HCP-DISC","x":-0.459,"y":0.184},{"g":"HCP-DISC","x":-0.401,"y":0.179},{"g":"HCP-DISC","x":-0.207,"y":-0.632},{"g":"HCP-DISC","x":-0.248,"y":-0.571},{"g":"HCP-DISC","x":-0.258,"y":-0.697},{"g":"HCP-DISC","x":-0.258,"y":-0.809},{"g":"HCP-DISC","x":-0.169,"y":-0.729},{"g":"HCP-DISC","x":-0.164,"y":-0.68},{"g":"HCP-DISC","x":-0.107,"y":-0.676},{"g":"HCP-DISC","x":-0.08,"y":-0.625},{"g":"HCP-DISC","x":0.0,"y":-0.805},{"g":"HCP-DISC","x":0.164,"y":-0.483},{"g":"HCP-DISC","x":0.066,"y":-0.378},{"g":"HCP-DISC","x":0.067,"y":-0.328},{"g":"HCP-DISC","x":-0.082,"y":-0.312},{"g":"HCP-DISC","x":-0.008,"y":-0.338},{"g":"HCP-DISC","x":-0.042,"y":-0.012},{"g":"HCP-DISC","x":-0.015,"y":-0.005},{"g":"HCP-DISC","x":0.01,"y":-0.02},{"g":"HCP-DISC","x":-0.075,"y":0.007},{"g":"HCP-DISC","x":-0.084,"y":-0.441},{"g":"HCP-DISC","x":-0.611,"y":-0.489},{"g":"HCP-DISC","x":-0.565,"y":-0.507},{"g":"HCP-DISC","x":-0.556,"y":-0.595},{"g":"HCP-DISC","x":-0.535,"y":-0.411},{"g":"HCP-DISC","x":-0.505,"y":-0.43},{"g":"HCP-DISC","x":-0.472,"y":-0.45},{"g":"HCP-DISC","x":-0.446,"y":-0.536},{"g":"HCP-DISC","x":-0.432,"y":-0.568},{"g":"HCP-DISC","x":-0.417,"y":-0.529},{"g":"HCP-DISC","x":-0.382,"y":-0.612},{"g":"HCP-DISC","x":-0.331,"y":-0.499},{"g":"HCP-DISC","x":-0.296,"y":-0.562},{"g":"HCP-DISC","x":-0.581,"y":-0.203},{"g":"HCP-DISC","x":-0.554,"y":-0.288},{"g":"HCP-DISC","x":-0.613,"y":-0.046},{"g":"HCP-DISC","x":-0.592,"y":-0.039},{"g":"HCP-DISC","x":-0.619,"y":0.017},{"g":"HCP-DISC","x":-0.596,"y":0.039},
{"g":"HCP-DISC","x":-0.503,"y":-0.06},{"g":"HCP-DISC","x":-0.484,"y":-0.22},{"g":"HCP-DISC","x":-0.472,"y":0.04},{"g":"HCP-DISC","x":-0.458,"y":-0.14},{"g":"HCP-DISC","x":-0.447,"y":-0.30},{"g":"HCP-DISC","x":-0.436,"y":0.09},{"g":"HCP-DISC","x":-0.427,"y":-0.09},{"g":"HCP-DISC","x":-0.418,"y":-0.19},{"g":"HCP-DISC","x":-0.406,"y":-0.36},{"g":"HCP-DISC","x":-0.397,"y":0.03},{"g":"HCP-DISC","x":-0.388,"y":-0.13},{"g":"HCP-DISC","x":-0.377,"y":-0.27},{"g":"HCP-DISC","x":-0.368,"y":0.12},{"g":"HCP-DISC","x":-0.356,"y":-0.04},{"g":"HCP-DISC","x":-0.347,"y":-0.21},{"g":"HCP-DISC","x":-0.338,"y":-0.33},{"g":"HCP-DISC","x":-0.327,"y":0.06},{"g":"HCP-DISC","x":-0.316,"y":-0.11},{"g":"HCP-DISC","x":-0.307,"y":-0.25},{"g":"HCP-DISC","x":-0.298,"y":-0.01},{"g":"HCP-DISC","x":-0.287,"y":-0.38},{"g":"HCP-DISC","x":-0.276,"y":-0.16},{"g":"HCP-DISC","x":-0.268,"y":0.08},{"g":"HCP-DISC","x":-0.257,"y":-0.29},{"g":"HCP-DISC","x":-0.246,"y":-0.07},{"g":"HCP-DISC","x":-0.237,"y":-0.20},{"g":"HCP-DISC","x":-0.228,"y":-0.42},{"g":"HCP-DISC","x":-0.216,"y":0.03},{"g":"HCP-DISC","x":-0.207,"y":-0.13},{"g":"HCP-DISC","x":-0.198,"y":-0.31},{"g":"HCP-DISC","x":-0.186,"y":-0.05},{"g":"HCP-DISC","x":-0.177,"y":-0.23},{"g":"HCP-DISC","x":-0.168,"y":-0.40},{"g":"HCP-DISC","x":-0.156,"y":-0.10},{"g":"HCP-DISC","x":-0.147,"y":-0.27},{"g":"HCP-DISC","x":-0.138,"y":-0.17},{"g":"HCP-DISC","x":-0.126,"y":-0.35},{"g":"HCP-DISC","x":-0.117,"y":-0.03},{"g":"HCP-DISC","x":-0.108,"y":-0.22},{"g":"HCP-DISC","x":-0.097,"y":-0.30},{"g":"HCP-DISC","x":-0.547,"y":-0.10},{"g":"HCP-DISC","x":-0.528,"y":0.02},{"g":"HCP-DISC","x":-0.566,"y":-0.16},{"g":"HCP-DISC","x":-0.517,"y":-0.27},{"g":"HCP-DISC","x":-0.487,"y":0.10},{"g":"HCP-DISC","x":-0.357,"y":-0.46},{"g":"HCP-DISC","x":-0.306,"y":-0.45},{"g":"HCP-DISC","x":-0.267,"y":-0.48},{"g":"HCP-DISC","x":-0.208,"y":-0.47},{"g":"HCP-DISC","x":-0.326,"y":0.17},{"g":"HCP-DISC","x":-0.277,"y":0.14},{"g":"HCP-DISC","x":-0.386,"y":0.16},{"g":"HCP-DISC","x":-0.428,"y":-0.42},{"g":"HCP-DISC","x":-0.178,"y":-0.15},{"g":"HCP-DISC","x":-0.247,"y":-0.12},{"g":"HCP-DISC","x":-0.318,"y":-0.19},{"g":"HCP-DISC","x":-0.366,"y":-0.08},{"g":"HCP-DISC","x":-0.078,"y":-0.18},{"g":"HCP-DISC","x":-0.057,"y":-0.25},{"g":"HCP-DISC","x":-0.466,"y":-0.38},
{"g":"HCP-REP","x":-0.665,"y":0.37},{"g":"HCP-REP","x":-0.558,"y":0.309},{"g":"HCP-REP","x":-0.568,"y":0.254},{"g":"HCP-REP","x":-0.611,"y":0.291},{"g":"HCP-REP","x":-0.554,"y":0.171},{"g":"HCP-REP","x":-0.548,"y":0.096},{"g":"HCP-REP","x":-0.655,"y":0.07},{"g":"HCP-REP","x":-0.625,"y":0.043},{"g":"HCP-REP","x":-0.639,"y":-0.022},{"g":"HCP-REP","x":-0.688,"y":-0.101},{"g":"HCP-REP","x":-0.701,"y":-0.167},{"g":"HCP-REP","x":-0.649,"y":-0.213},{"g":"HCP-REP","x":-0.764,"y":-0.263},{"g":"HCP-REP","x":-0.568,"y":-0.296},{"g":"HCP-REP","x":-0.568,"y":-0.384},{"g":"HCP-REP","x":-0.564,"y":-0.586},{"g":"HCP-REP","x":-0.51,"y":-0.354},{"g":"HCP-REP","x":-0.51,"y":-0.391},{"g":"HCP-REP","x":-0.519,"y":-0.414},{"g":"HCP-REP","x":-0.498,"y":-0.479},{"g":"HCP-REP","x":-0.472,"y":-0.533},{"g":"HCP-REP","x":-0.464,"y":-0.684},{"g":"HCP-REP","x":-0.436,"y":-0.608},{"g":"HCP-REP","x":-0.41,"y":-0.555},{"g":"HCP-REP","x":-0.378,"y":-0.625},{"g":"HCP-REP","x":-0.369,"y":-0.505},{"g":"HCP-REP","x":-0.333,"y":-0.792},{"g":"HCP-REP","x":-0.344,"y":-0.93},{"g":"HCP-REP","x":-0.263,"y":-0.782},{"g":"HCP-REP","x":-0.262,"y":-0.849},{"g":"HCP-REP","x":-0.245,"y":-0.575},{"g":"HCP-REP","x":-0.245,"y":-0.604},{"g":"HCP-REP","x":-0.224,"y":-0.632},{"g":"HCP-REP","x":-0.216,"y":-0.667},{"g":"HCP-REP","x":-0.235,"y":-0.496},{"g":"HCP-REP","x":-0.17,"y":-0.568},{"g":"HCP-REP","x":-0.161,"y":-0.618},{"g":"HCP-REP","x":-0.134,"y":0.138},{"g":"HCP-REP","x":-0.073,"y":0.037},{"g":"HCP-REP","x":-0.138,"y":0.033},{"g":"HCP-REP","x":-0.096,"y":-0.121},{"g":"HCP-REP","x":-0.126,"y":-0.437},{"g":"HCP-REP","x":-0.038,"y":-0.52},{"g":"HCP-REP","x":0.028,"y":-0.77},{"g":"HCP-REP","x":-0.025,"y":-0.022},{"g":"HCP-REP","x":-0.018,"y":-0.178},{"g":"HCP-REP","x":-0.018,"y":-0.237},{"g":"HCP-REP","x":-0.022,"y":-0.272},{"g":"HCP-REP","x":0.034,"y":-0.147},{"g":"HCP-REP","x":0.118,"y":-0.332},{"g":"HCP-REP","x":-0.264,"y":0.205},{"g":"HCP-REP","x":-0.331,"y":0.164},{"g":"HCP-REP","x":-0.435,"y":0.122},{"g":"HCP-REP","x":-0.158,"y":-0.437},
{"g":"HCP-REP","x":-0.517,"y":-0.02},{"g":"HCP-REP","x":-0.503,"y":-0.15},{"g":"HCP-REP","x":-0.486,"y":-0.28},{"g":"HCP-REP","x":-0.474,"y":0.07},{"g":"HCP-REP","x":-0.463,"y":-0.08},{"g":"HCP-REP","x":-0.447,"y":-0.21},{"g":"HCP-REP","x":-0.438,"y":-0.36},{"g":"HCP-REP","x":-0.426,"y":0.01},{"g":"HCP-REP","x":-0.417,"y":-0.12},{"g":"HCP-REP","x":-0.408,"y":-0.25},{"g":"HCP-REP","x":-0.396,"y":0.10},{"g":"HCP-REP","x":-0.387,"y":-0.07},{"g":"HCP-REP","x":-0.378,"y":-0.18},{"g":"HCP-REP","x":-0.366,"y":-0.38},{"g":"HCP-REP","x":-0.357,"y":0.02},{"g":"HCP-REP","x":-0.348,"y":-0.30},{"g":"HCP-REP","x":-0.336,"y":-0.10},{"g":"HCP-REP","x":-0.327,"y":-0.22},{"g":"HCP-REP","x":-0.318,"y":0.09},{"g":"HCP-REP","x":-0.306,"y":-0.40},{"g":"HCP-REP","x":-0.297,"y":-0.14},{"g":"HCP-REP","x":-0.288,"y":-0.03},{"g":"HCP-REP","x":-0.276,"y":-0.27},{"g":"HCP-REP","x":-0.267,"y":-0.44},{"g":"HCP-REP","x":-0.258,"y":-0.12},{"g":"HCP-REP","x":-0.246,"y":0.05},{"g":"HCP-REP","x":-0.237,"y":-0.33},{"g":"HCP-REP","x":-0.228,"y":-0.19},{"g":"HCP-REP","x":-0.216,"y":-0.06},{"g":"HCP-REP","x":-0.207,"y":-0.40},{"g":"HCP-REP","x":-0.198,"y":-0.25},{"g":"HCP-REP","x":-0.186,"y":-0.11},{"g":"HCP-REP","x":-0.177,"y":-0.35},{"g":"HCP-REP","x":-0.168,"y":-0.18},{"g":"HCP-REP","x":-0.156,"y":-0.44},{"g":"HCP-REP","x":-0.147,"y":-0.08},{"g":"HCP-REP","x":-0.138,"y":-0.30},{"g":"HCP-REP","x":-0.126,"y":-0.23},{"g":"HCP-REP","x":-0.117,"y":-0.36},{"g":"HCP-REP","x":-0.108,"y":-0.13},{"g":"HCP-REP","x":-0.096,"y":-0.27},{"g":"HCP-REP","x":-0.087,"y":-0.40},{"g":"HCP-REP","x":-0.078,"y":-0.20},{"g":"HCP-REP","x":-0.066,"y":-0.31},{"g":"HCP-REP","x":-0.537,"y":-0.20},{"g":"HCP-REP","x":-0.556,"y":-0.09},{"g":"HCP-REP","x":-0.577,"y":0.00},{"g":"HCP-REP","x":-0.598,"y":-0.13},{"g":"HCP-REP","x":-0.347,"y":0.16},{"g":"HCP-REP","x":-0.296,"y":0.13},{"g":"HCP-REP","x":-0.268,"y":0.18},{"g":"HCP-REP","x":-0.227,"y":0.12},{"g":"HCP-REP","x":-0.397,"y":-0.46},{"g":"HCP-REP","x":-0.328,"y":-0.48},{"g":"HCP-REP","x":-0.247,"y":-0.49},{"g":"HCP-REP","x":-0.187,"y":-0.50},{"g":"HCP-REP","x":-0.286,"y":-0.20},{"g":"HCP-REP","x":-0.357,"y":-0.26},{"g":"HCP-REP","x":-0.238,"y":-0.01},
{"g":"HCPD","x":-0.491,"y":0.613},{"g":"HCPD","x":-0.472,"y":0.468},{"g":"HCPD","x":-0.434,"y":0.403},{"g":"HCPD","x":-0.369,"y":0.333},{"g":"HCPD","x":-0.361,"y":0.317},{"g":"HCPD","x":-0.289,"y":0.179},{"g":"HCPD","x":-0.082,"y":0.184},{"g":"HCPD","x":0.135,"y":0.113},{"g":"HCPD","x":0.174,"y":0.133},{"g":"HCPD","x":-0.808,"y":0.109},{"g":"HCPD","x":-0.768,"y":-0.413},{"g":"HCPD","x":-0.701,"y":-0.029},{"g":"HCPD","x":-0.677,"y":-0.033},{"g":"HCPD","x":-0.604,"y":0.297},{"g":"HCPD","x":-0.52,"y":0.133},{"g":"HCPD","x":-0.478,"y":0.136},{"g":"HCPD","x":-0.611,"y":-0.145},{"g":"HCPD","x":-0.596,"y":-0.134},{"g":"HCPD","x":-0.583,"y":-0.24},{"g":"HCPD","x":-0.562,"y":-0.24},{"g":"HCPD","x":-0.525,"y":-0.292},{"g":"HCPD","x":-0.583,"y":-0.378},{"g":"HCPD","x":-0.428,"y":-0.437},{"g":"HCPD","x":-0.411,"y":-0.433},{"g":"HCPD","x":-0.379,"y":-0.47},{"g":"HCPD","x":-0.439,"y":-0.489},{"g":"HCPD","x":-0.126,"y":-0.493},{"g":"HCPD","x":0.03,"y":-0.424},{"g":"HCPD","x":0.03,"y":-0.509},{"g":"HCPD","x":0.042,"y":-0.522},{"g":"HCPD","x":0.07,"y":-0.43},{"g":"HCPD","x":0.084,"y":-0.40},{"g":"HCPD","x":-0.054,"y":-0.632},{"g":"HCPD","x":-0.245,"y":-0.549},{"g":"HCPD","x":-0.211,"y":-0.553},{"g":"HCPD","x":-0.168,"y":-0.536},{"g":"HCPD","x":0.059,"y":-0.009},{"g":"HCPD","x":0.055,"y":-0.164},{"g":"HCPD","x":0.066,"y":-0.207},{"g":"HCPD","x":0.025,"y":-0.226},{"g":"HCPD","x":-0.017,"y":-0.143},{"g":"HCPD","x":-0.002,"y":-0.151},{"g":"HCPD","x":-0.008,"y":-0.226},{"g":"HCPD","x":-0.028,"y":-0.347},{"g":"HCPD","x":-0.044,"y":-0.408},{"g":"HCPD","x":-0.06,"y":-0.108},{"g":"HCPD","x":-0.073,"y":-0.141},{"g":"HCPD","x":-0.101,"y":-0.012},{"g":"HCPD","x":-0.069,"y":-0.068},{"g":"HCPD","x":-0.081,"y":-0.242},{"g":"HCPD","x":-0.099,"y":-0.371},{"g":"HCPD","x":-0.13,"y":-0.378},{"g":"HCPD","x":-0.143,"y":-0.338},{"g":"HCPD","x":-0.168,"y":0.03},{"g":"HCPD","x":-0.148,"y":0.05},
{"g":"HCPD","x":-0.457,"y":0.02},{"g":"HCPD","x":-0.446,"y":-0.10},{"g":"HCPD","x":-0.437,"y":-0.19},{"g":"HCPD","x":-0.426,"y":0.08},{"g":"HCPD","x":-0.417,"y":-0.05},{"g":"HCPD","x":-0.406,"y":-0.27},{"g":"HCPD","x":-0.398,"y":0.00},{"g":"HCPD","x":-0.403,"y":-0.14},{"g":"HCPD","x":-0.387,"y":0.11},{"g":"HCPD","x":-0.376,"y":-0.22},{"g":"HCPD","x":-0.383,"y":-0.08},{"g":"HCPD","x":-0.367,"y":0.04},{"g":"HCPD","x":-0.373,"y":-0.32},{"g":"HCPD","x":-0.356,"y":-0.12},{"g":"HCPD","x":-0.347,"y":0.07},{"g":"HCPD","x":-0.353,"y":-0.02},{"g":"HCPD","x":-0.337,"y":-0.25},{"g":"HCPD","x":-0.343,"y":-0.17},{"g":"HCPD","x":-0.326,"y":0.12},{"g":"HCPD","x":-0.333,"y":-0.06},{"g":"HCPD","x":-0.317,"y":-0.36},{"g":"HCPD","x":-0.323,"y":0.01},{"g":"HCPD","x":-0.306,"y":-0.20},{"g":"HCPD","x":-0.313,"y":-0.11},{"g":"HCPD","x":-0.297,"y":0.06},{"g":"HCPD","x":-0.303,"y":-0.28},{"g":"HCPD","x":-0.286,"y":-0.04},{"g":"HCPD","x":-0.293,"y":-0.15},{"g":"HCPD","x":-0.277,"y":0.10},{"g":"HCPD","x":-0.283,"y":-0.23},{"g":"HCPD","x":-0.266,"y":-0.01},{"g":"HCPD","x":-0.273,"y":-0.33},{"g":"HCPD","x":-0.257,"y":-0.09},{"g":"HCPD","x":-0.263,"y":0.04},{"g":"HCPD","x":-0.246,"y":-0.18},{"g":"HCPD","x":-0.253,"y":-0.39},{"g":"HCPD","x":-0.237,"y":0.08},{"g":"HCPD","x":-0.243,"y":-0.05},{"g":"HCPD","x":-0.226,"y":-0.26},{"g":"HCPD","x":-0.233,"y":-0.13},{"g":"HCPD","x":-0.217,"y":0.01},{"g":"HCPD","x":-0.223,"y":-0.21},{"g":"HCPD","x":-0.206,"y":-0.31},{"g":"HCPD","x":-0.213,"y":-0.08},{"g":"HCPD","x":-0.197,"y":0.05},{"g":"HCPD","x":-0.203,"y":-0.16},{"g":"HCPD","x":-0.186,"y":-0.03},{"g":"HCPD","x":-0.193,"y":-0.24},{"g":"HCPD","x":-0.177,"y":-0.12},{"g":"HCPD","x":-0.183,"y":0.02},{"g":"HCPD","x":-0.166,"y":-0.20},{"g":"HCPD","x":-0.173,"y":-0.29},{"g":"HCPD","x":-0.157,"y":-0.06},{"g":"HCPD","x":-0.163,"y":-0.14},{"g":"HCPD","x":-0.146,"y":0.00},{"g":"HCPD","x":-0.153,"y":-0.22},{"g":"HCPD","x":-0.137,"y":-0.10},{"g":"HCPD","x":-0.126,"y":-0.17},{"g":"HCPD","x":-0.133,"y":-0.02},{"g":"HCPD","x":-0.117,"y":-0.25},{"g":"HCPD","x":-0.123,"y":-0.08},{"g":"HCPD","x":-0.106,"y":-0.14},{"g":"HCPD","x":-0.097,"y":-0.05},{"g":"HCPD","x":-0.103,"y":-0.20},{"g":"HCPD","x":-0.087,"y":-0.11},{"g":"HCPD","x":-0.477,"y":-0.17},{"g":"HCPD","x":-0.468,"y":-0.03},{"g":"HCPD","x":-0.497,"y":0.06},{"g":"HCPD","x":-0.516,"y":-0.12},{"g":"HCPD","x":-0.357,"y":-0.40},{"g":"HCPD","x":-0.328,"y":-0.43},{"g":"HCPD","x":-0.287,"y":-0.41},{"g":"HCPD","x":-0.228,"y":-0.44},{"g":"HCPD","x":-0.188,"y":-0.37},{"g":"HCPD","x":-0.338,"y":0.16},{"g":"HCPD","x":-0.296,"y":0.15},{"g":"HCPD","x":-0.247,"y":0.13},{"g":"HCPD","x":-0.208,"y":0.11},{"g":"HCPD","x":-0.407,"y":-0.33},{"g":"HCPD","x":-0.438,"y":-0.29},{"g":"HCPD","x":-0.268,"y":-0.17},{"g":"HCPD","x":-0.306,"y":-0.07},{"g":"HCPD","x":-0.356,"y":-0.19},{"g":"HCPD","x":-0.218,"y":-0.10},{"g":"HCPD","x":-0.177,"y":-0.30},{"g":"HCPD","x":-0.138,"y":-0.28},
{"g":"HCP-DISC","x":-0.462,"y":-0.02},{"g":"HCP-DISC","x":-0.451,"y":-0.25},{"g":"HCP-DISC","x":-0.439,"y":-0.10},{"g":"HCP-DISC","x":-0.428,"y":-0.33},{"g":"HCP-DISC","x":-0.418,"y":0.00},{"g":"HCP-DISC","x":-0.407,"y":-0.15},{"g":"HCP-DISC","x":-0.398,"y":-0.24},{"g":"HCP-DISC","x":-0.387,"y":0.06},{"g":"HCP-DISC","x":-0.376,"y":-0.10},{"g":"HCP-DISC","x":-0.367,"y":-0.35},{"g":"HCP-DISC","x":-0.354,"y":-0.14},{"g":"HCP-DISC","x":-0.343,"y":0.01},{"g":"HCP-DISC","x":-0.333,"y":-0.26},{"g":"HCP-DISC","x":-0.323,"y":-0.07},{"g":"HCP-DISC","x":-0.312,"y":-0.40},{"g":"HCP-DISC","x":-0.302,"y":-0.18},{"g":"HCP-DISC","x":-0.292,"y":0.04},{"g":"HCP-DISC","x":-0.282,"y":-0.30},{"g":"HCP-DISC","x":-0.271,"y":-0.10},{"g":"HCP-DISC","x":-0.262,"y":-0.21},{"g":"HCP-DISC","x":-0.252,"y":-0.35},{"g":"HCP-DISC","x":-0.241,"y":-0.02},{"g":"HCP-DISC","x":-0.232,"y":-0.26},{"g":"HCP-DISC","x":-0.222,"y":-0.14},{"g":"HCP-DISC","x":-0.212,"y":-0.36},{"g":"HCP-DISC","x":-0.201,"y":-0.20},{"g":"HCP-DISC","x":-0.191,"y":-0.43},{"g":"HCP-DISC","x":-0.181,"y":-0.08},{"g":"HCP-DISC","x":-0.171,"y":-0.32},{"g":"HCP-DISC","x":-0.161,"y":-0.19},{"g":"HCP-DISC","x":-0.151,"y":-0.38},{"g":"HCP-DISC","x":-0.141,"y":-0.05},{"g":"HCP-DISC","x":-0.131,"y":-0.28},{"g":"HCP-DISC","x":-0.121,"y":-0.44},{"g":"HCP-DISC","x":-0.112,"y":-0.16},{"g":"HCP-DISC","x":-0.512,"y":-0.18},{"g":"HCP-DISC","x":-0.528,"y":-0.34},{"g":"HCP-DISC","x":-0.493,"y":-0.29},{"g":"HCP-DISC","x":-0.244,"y":0.11},{"g":"HCP-DISC","x":-0.351,"y":0.10},
{"g":"HCP-REP","x":-0.482,"y":-0.11},{"g":"HCP-REP","x":-0.471,"y":-0.36},{"g":"HCP-REP","x":-0.461,"y":-0.20},{"g":"HCP-REP","x":-0.449,"y":0.01},{"g":"HCP-REP","x":-0.439,"y":-0.27},{"g":"HCP-REP","x":-0.429,"y":-0.05},{"g":"HCP-REP","x":-0.419,"y":-0.40},{"g":"HCP-REP","x":-0.408,"y":-0.17},{"g":"HCP-REP","x":-0.398,"y":-0.30},{"g":"HCP-REP","x":-0.389,"y":0.04},{"g":"HCP-REP","x":-0.379,"y":-0.13},{"g":"HCP-REP","x":-0.369,"y":-0.24},{"g":"HCP-REP","x":-0.359,"y":-0.43},{"g":"HCP-REP","x":-0.349,"y":-0.05},{"g":"HCP-REP","x":-0.339,"y":-0.16},{"g":"HCP-REP","x":-0.329,"y":-0.36},{"g":"HCP-REP","x":-0.319,"y":-0.27},{"g":"HCP-REP","x":-0.309,"y":0.02},{"g":"HCP-REP","x":-0.299,"y":-0.21},{"g":"HCP-REP","x":-0.289,"y":-0.32},{"g":"HCP-REP","x":-0.279,"y":-0.09},{"g":"HCP-REP","x":-0.269,"y":-0.19},{"g":"HCP-REP","x":-0.259,"y":-0.38},{"g":"HCP-REP","x":-0.249,"y":-0.27},{"g":"HCP-REP","x":-0.239,"y":-0.11},{"g":"HCP-REP","x":-0.229,"y":-0.45},{"g":"HCP-REP","x":-0.219,"y":-0.29},{"g":"HCP-REP","x":-0.209,"y":-0.15},{"g":"HCP-REP","x":-0.199,"y":-0.38},{"g":"HCP-REP","x":-0.189,"y":-0.22},{"g":"HCP-REP","x":-0.179,"y":-0.42},{"g":"HCP-REP","x":-0.169,"y":-0.28},{"g":"HCP-REP","x":-0.159,"y":-0.12},{"g":"HCP-REP","x":-0.149,"y":-0.36},{"g":"HCP-REP","x":-0.139,"y":-0.19},{"g":"HCP-REP","x":-0.129,"y":-0.46},{"g":"HCP-REP","x":-0.119,"y":-0.29},{"g":"HCP-REP","x":-0.109,"y":-0.20},{"g":"HCP-REP","x":-0.099,"y":-0.34},{"g":"HCP-REP","x":-0.089,"y":-0.27},
{"g":"HCPD","x":-0.452,"y":-0.06},{"g":"HCPD","x":-0.441,"y":0.05},{"g":"HCPD","x":-0.433,"y":-0.14},{"g":"HCPD","x":-0.421,"y":-0.23},{"g":"HCPD","x":-0.412,"y":-0.01},{"g":"HCPD","x":-0.401,"y":0.06},{"g":"HCPD","x":-0.392,"y":-0.18},{"g":"HCPD","x":-0.381,"y":-0.04},{"g":"HCPD","x":-0.372,"y":-0.27},{"g":"HCPD","x":-0.362,"y":0.09},{"g":"HCPD","x":-0.352,"y":-0.09},{"g":"HCPD","x":-0.341,"y":-0.21},{"g":"HCPD","x":-0.331,"y":0.02},{"g":"HCPD","x":-0.322,"y":-0.15},{"g":"HCPD","x":-0.311,"y":-0.30},{"g":"HCPD","x":-0.301,"y":-0.05},{"g":"HCPD","x":-0.291,"y":0.03},{"g":"HCPD","x":-0.281,"y":-0.12},{"g":"HCPD","x":-0.271,"y":-0.26},{"g":"HCPD","x":-0.261,"y":-0.02},{"g":"HCPD","x":-0.251,"y":-0.13},{"g":"HCPD","x":-0.241,"y":0.02},{"g":"HCPD","x":-0.231,"y":-0.33},{"g":"HCPD","x":-0.221,"y":-0.07},{"g":"HCPD","x":-0.211,"y":-0.17},{"g":"HCPD","x":-0.201,"y":0.00},{"g":"HCPD","x":-0.191,"y":-0.10},{"g":"HCPD","x":-0.181,"y":-0.21},{"g":"HCPD","x":-0.171,"y":0.04},{"g":"HCPD","x":-0.161,"y":-0.25},{"g":"HCPD","x":-0.151,"y":-0.11},{"g":"HCPD","x":-0.141,"y":-0.03},{"g":"HCPD","x":-0.131,"y":-0.20},{"g":"HCPD","x":-0.121,"y":-0.13},{"g":"HCPD","x":-0.111,"y":-0.06},{"g":"HCPD","x":-0.101,"y":-0.28},{"g":"HCPD","x":-0.092,"y":-0.16},{"g":"HCPD","x":-0.081,"y":-0.09},{"g":"HCPD","x":-0.071,"y":-0.20},{"g":"HCPD","x":-0.388,"y":-0.36},{"g":"HCPD","x":-0.339,"y":-0.32},{"g":"HCPD","x":-0.278,"y":-0.37},{"g":"HCPD","x":-0.219,"y":-0.27},{"g":"HCPD","x":-0.158,"y":-0.34},{"g":"HCPD","x":-0.472,"y":-0.10},{"g":"HCPD","x":-0.492,"y":-0.22},{"g":"HCPD","x":-0.318,"y":0.07},{"g":"HCPD","x":-0.262,"y":0.07},{"g":"HCPD","x":-0.198,"y":-0.05},{"g":"HCPD","x":-0.149,"y":-0.18}
],
"LA":[{"g":"HCP-DISC","x":-0.793,"y":0.603},{"g":"HCP-DISC","x":0.164,"y":0.007},{"g":"HCP-REP","x":-0.764,"y":0.568},{"g":"HCP-REP","x":0.119,"y":0.096},{"g":"HCPD","x":-0.81,"y":0.701},{"g":"HCPD","x":0.174,"y":0.044}],
"LB":[{"g":"HCP-DISC","x":-0.881,"y":0.697},{"g":"HCP-DISC","x":0.157,"y":0.082},{"g":"HCP-REP","x":-0.686,"y":0.559},{"g":"HCP-REP","x":0.189,"y":0.166},{"g":"HCPD","x":-0.884,"y":0.705},{"g":"HCPD","x":0.244,"y":0.133}],
"LC":[{"g":"HCP-DISC","x":-0.793,"y":-0.016},{"g":"HCP-DISC","x":0.164,"y":-0.348},{"g":"HCP-REP","x":-0.764,"y":-0.055},{"g":"HCP-REP","x":0.119,"y":-0.331},{"g":"HCPD","x":-0.808,"y":-0.029},{"g":"HCPD","x":0.174,"y":-0.259}]
},
"resolve":{"legend":{"color":"independent"}},
"vconcat":[
{"width":427,"height":432,
"title":{"text":"A","baseline":"top","dy":40,"offset":0},
"layer":[
{"data":{"name":"A"},"mark":{"type":"point","filled":true,"size":52,"stroke":"black","strokeWidth":0.8,"opacity":1},
"encoding":{
"x":{"field":"x","type":"quantitative","scale":{"domain":[-0.858,0.218],"nice":false,"zero":false},"axis":{"title":"Dorsal Attention-A NSAR","values":[-0.8,-0.6,-0.4,-0.2,0,0.2],"labelExpr":"replace(format(datum.value,'.1f'),'−','-')","labelPadding":4,"titlePadding":6}},
"y":{"field":"y","type":"quantitative","scale":{"domain":[-0.43,1.077],"nice":false,"zero":false},"axis":{"title":"Limbic-B NSAR","values":[0,0.5,1],"labelExpr":"replace(format(datum.value,'.1f'),'−','-')","labelAngle":-90,"labelAlign":"center","labelBaseline":"bottom","labelPadding":4,"titlePadding":8}},
"color":{"field":"g","type":"nominal","scale":{"domain":["HCP-DISC","HCP-REP","HCPD"],"range":["#E69F00","#D55E00","#0072B2"]},
"legend":{"title":null,"orient":"none","legendX":21,"legendY":326,"strokeColor":"black","fillColor":"white","padding":6,"labelFontSize":19,"labelColor":"black","labelOffset":14,"symbolType":"circle","symbolSize":120,"symbolStrokeColor":"black","symbolStrokeWidth":1.8,"rowPadding":4}}}},
{"data":{"name":"LA"},"mark":{"type":"line","strokeWidth":2.5},
"encoding":{"x":{"field":"x","type":"quantitative"},"y":{"field":"y","type":"quantitative"},"color":{"field":"g","type":"nominal","legend":null}}}
]},
{"width":429,"height":428,
"title":{"text":"B","baseline":"top","dy":40,"offset":0},
"layer":[
{"data":{"name":"B"},"mark":{"type":"point","filled":true,"size":52,"stroke":"black","strokeWidth":0.8,"opacity":1},
"encoding":{
"x":{"field":"x","type":"quantitative","scale":{"domain":[-0.94,0.3],"nice":false,"zero":false},"axis":{"title":"Default-C NSAR","values":[-0.9,-0.6,-0.3,0,0.3],"labelExpr":"replace(format(datum.value,'.1f'),'−','-')","labelPadding":4,"titlePadding":6}},
"y":{"field":"y","type":"quantitative","scale":{"domain":[-0.423,1.076],"nice":false,"zero":false},"axis":{"title":"Limbic-B NSAR","values":[0,0.5,1],"labelExpr":"replace(format(datum.value,'.1f'),'−','-')","labelAngle":-90,"labelAlign":"center","labelBaseline":"bottom","labelPadding":4,"titlePadding":8}},
"color":{"field":"g","type":"nominal","legend":null}}},
{"data":{"name":"LB"},"mark":{"type":"line","strokeWidth":2.5},
"encoding":{"x":{"field":"x","type":"quantitative"},"y":{"field":"y","type":"quantitative"},"color":{"field":"g","type":"nominal","legend":null}}}
]},
{"width":427,"height":430,
"title":{"text":"C","baseline":"top","dy":40,"offset":0},
"layer":[
{"data":{"name":"C"},"mark":{"type":"point","filled":true,"size":52,"stroke":"black","strokeWidth":0.8,"opacity":1},
"encoding":{
"x":{"field":"x","type":"quantitative","scale":{"domain":[-0.858,0.218],"nice":false,"zero":false},"axis":{"title":"Dorsal Attention-A NSAR","values":[-0.8,-0.6,-0.4,-0.2,0,0.2],"labelExpr":"replace(format(datum.value,'.1f'),'−','-')","labelPadding":4,"titlePadding":6}},
"y":{"field":"y","type":"quantitative","scale":{"domain":[-1.003,0.686],"nice":false,"zero":false},"axis":{"title":"Language NSAR","values":[-1,-0.5,0,0.5],"labelExpr":"replace(format(datum.value,'.1f'),'−','-')","labelAngle":-90,"labelAlign":"center","labelBaseline":"bottom","labelPadding":4,"titlePadding":8}},
"color":{"field":"g","type":"nominal","legend":null}}},
{"data":{"name":"LC"},"mark":{"type":"line","strokeWidth":2.5},
"encoding":{"x":{"field":"x","type":"quantitative"},"y":{"field":"y","type":"quantitative"},"color":{"field":"g","type":"nominal","legend":null}}}
]}
]
}
